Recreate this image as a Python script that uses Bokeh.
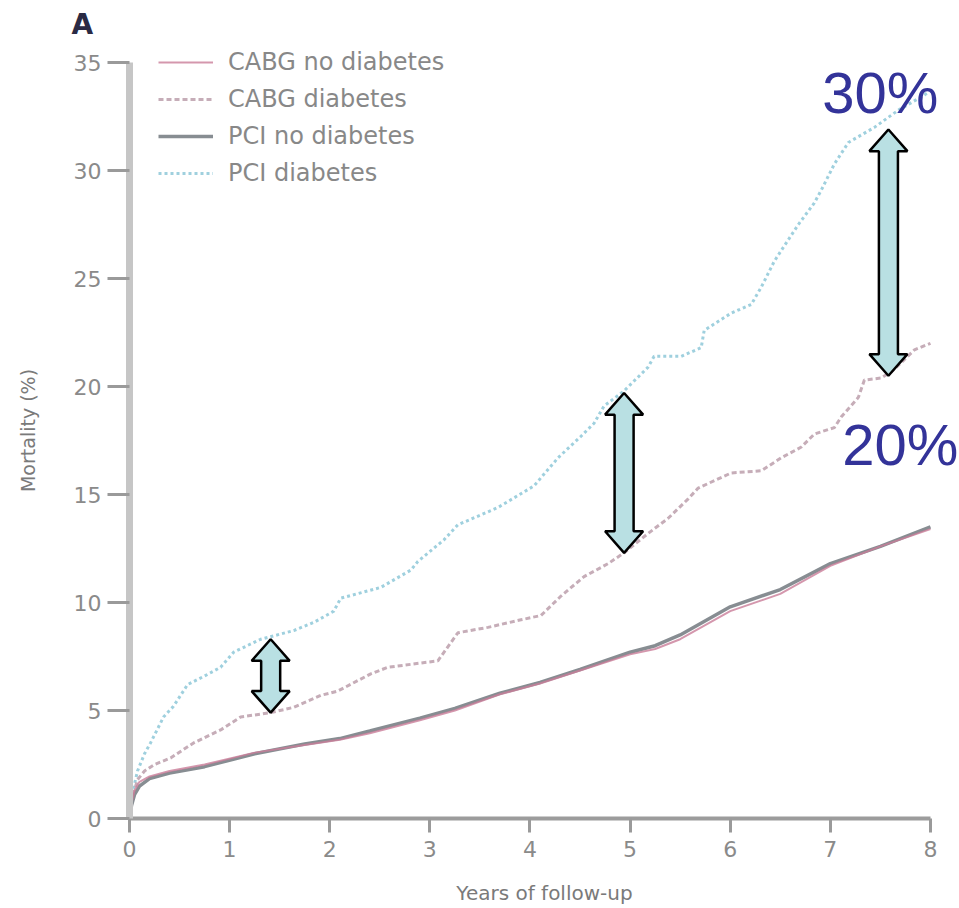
from bokeh.plotting import figure
from bokeh.models import Range1d, Legend, LegendItem, Label, FixedTicker
from bokeh.embed import file_html
from bokeh.resources import INLINE

# ---- data ----
years_pci_dm = [0, 0.03, 0.08, 0.15, 0.21, 0.34, 0.44, 0.58, 0.75, 0.91, 1.04, 1.31, 1.64, 1.85, 2.04, 2.11,
                2.51, 2.81, 2.88, 3.14, 3.28, 3.68, 4.04, 4.28, 4.51, 4.64, 4.74, 4.94, 5.18, 5.24, 5.51,
                5.71, 5.74, 6.01, 6.21, 6.31, 6.44, 6.51, 6.68, 6.84, 6.91, 7.04, 7.18, 7.44, 7.68, 7.94, 8.0]
mort_pci_dm = [0, 1.2, 2.2, 3.0, 3.5, 4.7, 5.2, 6.2, 6.6, 7.0, 7.7, 8.3, 8.7, 9.1, 9.6, 10.2,
               10.7, 11.5, 11.9, 12.9, 13.6, 14.4, 15.4, 16.7, 17.7, 18.3, 19.1, 19.8, 20.9, 21.4, 21.4,
               21.8, 22.6, 23.4, 23.8, 24.6, 25.8, 26.3, 27.5, 28.5, 29.1, 30.3, 31.3, 32.0, 32.8, 33.5, 33.7]

years_cabg_dm = [0, 0.03, 0.08, 0.15, 0.25, 0.41, 0.64, 0.91, 1.11, 1.41, 1.64, 1.91, 2.08, 2.41, 2.58, 3.08,
                 3.28, 3.58, 3.91, 4.11, 4.31, 4.54, 4.78, 4.94, 5.18, 5.38, 5.58, 5.68, 6.01, 6.31, 6.51,
                 6.71, 6.84, 7.04, 7.11, 7.28, 7.34, 7.51, 7.64, 7.84, 8.0]
mort_cabg_dm = [0, 1.0, 1.8, 2.2, 2.5, 2.8, 3.5, 4.1, 4.7, 4.9, 5.15, 5.7, 5.9, 6.7, 7.0, 7.3,
                8.6, 8.85, 9.2, 9.4, 10.3, 11.2, 11.8, 12.3, 13.2, 13.9, 14.8, 15.3, 16.0, 16.1, 16.7,
                17.2, 17.8, 18.1, 18.6, 19.5, 20.3, 20.4, 20.8, 21.7, 22.0]

years_nodm = [0, 0.02, 0.05, 0.1, 0.2, 0.4, 0.75, 1.25, 1.75, 2.1, 2.4, 2.9, 3.25, 3.7, 4.1, 4.5,
              5.0, 5.25, 5.5, 6.0, 6.5, 7.0, 7.5, 8.0]
mort_pci_nodm = [0, 0.6, 1.1, 1.5, 1.85, 2.1, 2.4, 3.0, 3.45, 3.7, 4.05, 4.65, 5.1, 5.8, 6.3, 6.9,
                 7.7, 8.0, 8.5, 9.8, 10.6, 11.8, 12.6, 13.5]
mort_cabg_nodm = [0, 0.7, 1.3, 1.7, 1.95, 2.2, 2.5, 3.05, 3.4, 3.65, 3.95, 4.55, 5.0, 5.75, 6.25, 6.85,
                  7.6, 7.85, 8.3, 9.6, 10.4, 11.7, 12.6, 13.4]

series_names = ["CABG no diabetes", "CABG diabetes", "PCI no diabetes", "PCI diabetes"]
x_ticks = [0, 1, 2, 3, 4, 5, 6, 7, 8]
y_ticks = [0, 5, 10, 15, 20, 25, 30, 35]

# gap arrows (year, lower mortality, upper mortality)
arrow_year = [1.41, 4.94, 7.58]
arrow_low = [4.9, 12.3, 20.5]
arrow_high = [8.3, 19.7, 31.9]
gap_labels = ["30%", "20%"]

FONT = "DejaVu Sans"

# ---- figure ----
p = figure(width=959, height=908, output_backend="svg", toolbar_location=None,
           x_range=Range1d(0, 8.29), y_range=Range1d(0, 35.93),
           min_border_left=129, min_border_right=0, min_border_top=42, min_border_bottom=90,
           title="A")
p.title.align = "left"
p.title.offset = -58
p.title.text_font = FONT
p.title.text_font_size = "28px"
p.title.text_font_style = "bold"
p.title.text_color = "#2a2a44"
p.title.standoff = 4

p.outline_line_color = None
p.xgrid.visible = False
p.ygrid.visible = False
p.background_fill_color = "white"
p.border_fill_color = "white"

r_pci_dm = p.line(years_pci_dm, mort_pci_dm, line_color="#9fd0de", line_width=3, line_dash="3 3")
r_cabg_dm = p.line(years_cabg_dm, mort_cabg_dm, line_color="#c6adb8", line_width=3, line_dash="5 3")
r_pci_nodm = p.line(years_nodm, mort_pci_nodm, line_color="#878d92", line_width=3.5)
r_cabg_nodm = p.line(years_nodm, mort_cabg_nodm, line_color="#c97d98", line_width=2, line_alpha=0.8)

# block double-headed arrows
shaft, head, head_len = 0.095, 0.19, 1.0
axs, ays = [], []
for xc, y0, y1 in zip(arrow_year, arrow_low, arrow_high):
    axs.append([xc, xc + head, xc + shaft, xc + shaft, xc + head, xc,
                xc - head, xc - shaft, xc - shaft, xc - head])
    ays.append([y1, y1 - head_len, y1 - head_len, y0 + head_len, y0 + head_len, y0,
                y0 + head_len, y0 + head_len, y1 - head_len, y1 - head_len])
p.patches(axs, ays, fill_color="#b9e0e3", line_color="black", line_width=2.5)

# axes
for ax in (p.xaxis, p.yaxis):
    ax.major_label_text_font = FONT
    ax.major_label_text_font_size = "22px"
    ax.major_label_text_color = "#8a8a8a"
    ax.axis_label_text_font = FONT
    ax.axis_label_text_font_style = "normal"
    ax.axis_label_text_color = "#7a7a7a"
    ax.minor_tick_line_color = None
    ax.major_tick_line_color = "#9a9a9a"
    ax.major_tick_line_width = 3
    ax.major_tick_in = 0

p.xaxis.ticker = FixedTicker(ticks=x_ticks)
p.yaxis.ticker = FixedTicker(ticks=y_ticks)
p.xaxis.bounds = (0, 8)
p.yaxis.bounds = (0, 35)
p.xaxis.axis_line_color = "#9c9c9c"
p.xaxis.axis_line_width = 4
p.yaxis.axis_line_color = "#c6c6c6"
p.yaxis.axis_line_width = 7
p.xaxis.major_tick_out = 14
p.yaxis.major_tick_out = 22
p.xaxis.major_label_standoff = 8
p.yaxis.major_label_standoff = 6
p.xaxis.axis_label = "Years of follow-up"
p.yaxis.axis_label = "Mortality (%)"
p.xaxis.axis_label_text_font_size = "20px"
p.yaxis.axis_label_text_font_size = "19px"
p.xaxis.axis_label_standoff = 21
p.yaxis.axis_label_standoff = 32

# legend
legend = Legend(items=[
    LegendItem(label=series_names[0], renderers=[r_cabg_nodm]),
    LegendItem(label=series_names[1], renderers=[r_cabg_dm]),
    LegendItem(label=series_names[2], renderers=[r_pci_nodm]),
    LegendItem(label=series_names[3], renderers=[r_pci_dm]),
], location=(29, 631))
legend.border_line_color = None
legend.background_fill_alpha = 0
legend.margin = 0
legend.padding = 2
legend.glyph_width = 55
legend.label_standoff = 15
legend.spacing = 9
legend.label_text_font = FONT
legend.label_text_font_size = "24px"
legend.label_text_color = "#888888"
p.add_layout(legend)

# gap labels
p.add_layout(Label(x=6.92, y=33.6, text=gap_labels[0], text_font="Liberation Sans",
                   text_font_size="58px", text_color="#333399", text_baseline="alphabetic"))
p.add_layout(Label(x=7.12, y=17.3, text=gap_labels[1], text_font="Liberation Sans",
                   text_font_size="58px", text_color="#333399", text_baseline="alphabetic"))

open("out.html", "w").write(file_html(p, INLINE))
